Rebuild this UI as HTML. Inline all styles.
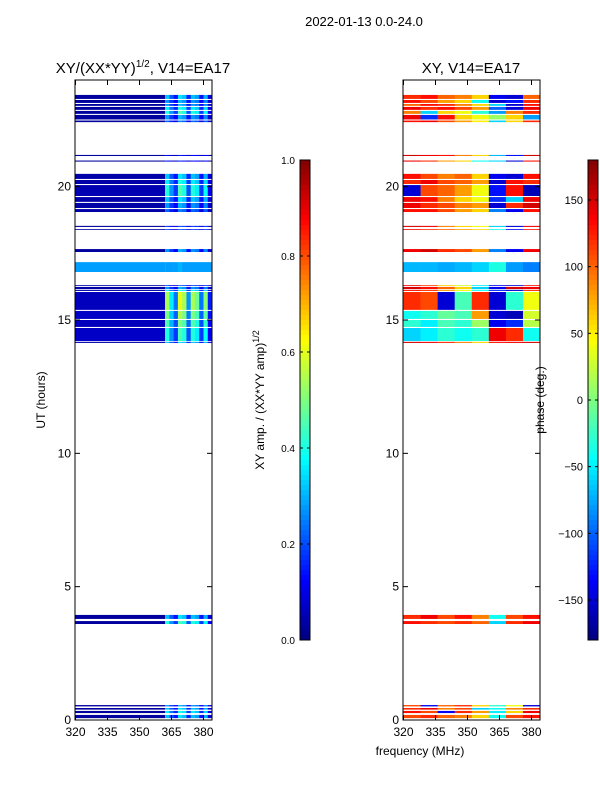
<!DOCTYPE html>
<html><head><meta charset="utf-8"><style>
body{margin:0;background:#fff}
svg{display:block;font-family:"Liberation Sans","DejaVu Sans",sans-serif}
</style></head><body>
<svg id="c" width="600" height="800">
<text x="364" y="26" font-size="13" text-anchor="middle">2022-01-13 0.0-24.0</text>
<text x="143" y="73" font-size="15" text-anchor="middle">XY/(XX*YY)<tspan font-size="10" dy="-6">1/2</tspan><tspan dy="6">, V14=EA17</tspan></text>
<text x="471" y="73" font-size="15" text-anchor="middle">XY, V14=EA17</text>
<text x="420" y="755" font-size="12" text-anchor="middle">frequency (MHz)</text>
<text transform="translate(45,400) rotate(-90)" font-size="12" text-anchor="middle">UT (hours)</text>
<text transform="translate(264,400) rotate(-90)" font-size="12" text-anchor="middle">XY amp. / (XX*YY amp)<tspan font-size="9" dy="-5">1/2</tspan></text>
<text transform="translate(544,400) rotate(-90)" font-size="12" text-anchor="middle">phase (deg.)</text>
<g id="L"></g>
<g id="R"></g>
<g id="CB"></g>
</svg>
<script>
const bandStart=[23.44,23.25,23.10,22.99,22.84,22.69,22.48,21.19,20.98,20.48,20.25,20.06,19.61,19.39,19.16,18.53,18.41,17.66,17.17,16.31,16.24,16.13,16.05,15.34,15.00,14.70,14.18,3.94,3.71,0.56,0.45,0.34,0.19];
const bandEnd=[23.29,23.14,23.03,22.88,22.73,22.52,22.42,21.15,20.94,20.29,20.10,19.65,19.43,19.20,19.05,18.49,18.38,17.55,16.80,16.28,16.16,16.09,15.38,15.04,14.74,14.21,14.14,3.79,3.60,0.51,0.39,0.26,0.07];
const ampBase=[0.03,0.03,0.03,0.03,0.03,0.03,0.03,0.03,0.03,0.04,0.04,0.05,0.04,0.04,0.04,0.03,0.03,0.03,0.28,0.04,0.04,0.04,0.06,0.07,0.06,0.07,0.04,0.03,0.03,0.03,0.03,0.03,0.03];
const ampPeak=[0.35,0.3,0.3,0.4,0.45,0.3,0.25,0.15,0.15,0.35,0.4,0.45,0.35,0.3,0.25,0.2,0.2,0.3,0.3,0.2,0.3,0.4,0.6,0.55,0.5,0.45,0.35,0.35,0.45,0.3,0.35,0.4,0.35];
const colFreq=[362,364,366,368,370,372,374,376,378,380,382];
const colPattern=[0.9,0.6,0.4,1.0,0.9,0.45,0.9,0.8,0.4,0.85,0.25];
const phaseSegFreq=[320,328,336,344,352,360,368,376];
const bandPhase=[
[120,130,100,90,60,-140,-150,100],[130,110,80,60,-40,-150,-130,120],[100,130,120,90,60,-60,-150,130],[140,120,130,110,80,-100,-150,140],[90,-60,60,40,-30,-80,90,120],[140,-120,130,60,40,10,60,-80],[130,140,110,80,50,-60,60,120],
[150,140,130,90,60,-70,-130,150],[140,120,80,60,-40,-60,-150,130],
[130,110,90,100,60,-140,-150,130],[120,140,110,100,80,-150,130,120],[-150,110,100,80,40,-130,130,-160],[140,130,90,60,40,-120,-60,140],[140,120,110,90,80,-150,120,150],[130,130,110,80,60,-90,-140,130],
[150,140,90,60,40,-60,-150,140],[140,120,100,80,60,-40,-140,130],[140,150,120,110,80,-90,-140,140],
[-70,-70,-75,-70,-60,-35,-80,-90],
[140,110,60,30,-50,-140,-150,130],[150,130,100,60,-60,-140,150,140],[130,120,80,40,-40,-120,-150,120],
[120,110,-150,-20,120,-150,-30,40],[-40,-30,-10,-20,80,-150,-160,30],[-30,-50,-20,-30,10,-140,-120,20],[-60,-50,-30,-40,-30,140,120,-40],[150,140,120,90,60,130,140,150],
[120,140,110,130,90,-40,110,130],[130,120,110,120,100,-60,120,140],
[110,-140,100,120,60,-30,40,-150],[120,140,90,110,-60,-40,90,120],[130,110,-140,120,80,-50,60,140],[110,120,100,90,60,-40,110,130]];
const xT=[320,335,350,365,380], yT=[0,5,10,15,20], ampT=[0,0.2,0.4,0.6,0.8,1.0], phT=[-150,-100,-50,0,50,100,150];
function jet(v){v=Math.max(0,Math.min(1,v));const f=t=>Math.round(255*Math.max(0,Math.min(1,1.5-Math.abs(4*v-t))));return`rgb(${f(3)},${f(2)},${f(1)})`;}
const NS='http://www.w3.org/2000/svg';
function el(p,t,a){const e=document.createElementNS(NS,t);for(const k in a)e.setAttribute(k,a[k]);p.appendChild(e);return e;}
const y=h=>720-h*(640/24);
function mk(x0){return f=>x0+0.5+(f-320)*(32/15);}
function panel(g,x0,isPhase){
  const x=mk(x0);
  for(let i=0;i<bandStart.length;i++){
    const y0=y(bandStart[i]),y1=y(bandEnd[i]);
    if(!isPhase){
      let r=el(g,'rect',{x:x(320),y:y0,width:x(362)-x(320),height:y1-y0,fill:jet(ampBase[i])});
      
      
      for(let c=0;c<colFreq.length;c++){
        const v=Math.max(ampBase[i],ampPeak[i]*colPattern[c]);
        let q=el(g,'rect',{x:x(colFreq[c]),y:y0,width:x(colFreq[c]+2)-x(colFreq[c])+0.3,height:y1-y0,fill:jet(v)});
        
        
      }
    }else{
      for(let s=0;s<phaseSegFreq.length;s++){
        const f0=phaseSegFreq[s],f1=s<phaseSegFreq.length-1?phaseSegFreq[s+1]:384;
        let q=el(g,'rect',{x:x(f0),y:y0,width:x(f1)-x(f0)+0.3,height:y1-y0,fill:jet((bandPhase[i][s]+180)/360)});
        
        
      }
    }
  }
  el(g,'rect',{x:x0,y:80,width:137,height:640,fill:'none',stroke:'#000','stroke-width':1});
  xT.forEach(t=>{const xx=x(t);el(g,'line',{x1:xx,x2:xx,y1:720,y2:715,stroke:'#000'});el(g,'line',{x1:xx,x2:xx,y1:80,y2:85,stroke:'#000'});
    const tx=el(g,'text',{x:xx,y:736,'font-size':12,'text-anchor':'middle'});tx.textContent=t;
    
    });
  yT.forEach(t=>{const yy=y(t);el(g,'line',{x1:x0,x2:x0+5,y1:yy,y2:yy,stroke:'#000'});el(g,'line',{x1:x0+137,x2:x0+132,y1:yy,y2:yy,stroke:'#000'});
    const tx=el(g,'text',{x:x0-4,y:yy+4,'font-size':12,'text-anchor':'end'});tx.textContent=t;
    
    });
}
panel(document.getElementById('L'),75,false);
panel(document.getElementById('R'),403,true);
const cb=document.getElementById('CB');
function colorbar(x0,ticks,lo,hi,fmt){
  for(let k=0;k<96;k++){el(cb,'rect',{x:x0,y:160+k*5,width:10,height:5.3,fill:jet(1-(k+0.5)/96)});}
  el(cb,'rect',{x:x0,y:160,width:10,height:480,fill:'none',stroke:'#000'});
  ticks.forEach(t=>{const yy=640-(t-lo)/(hi-lo)*480;el(cb,'line',{x1:x0,x2:x0+3,y1:yy,y2:yy,stroke:'#000'});el(cb,'line',{x1:x0+10,x2:x0+7,y1:yy,y2:yy,stroke:'#000'});
    const tx=el(cb,'text',{x:x0-5,y:yy+4,'font-size':fmt?10:11,'text-anchor':'end'});tx.textContent=fmt?t.toFixed(1):(t<0?'\u2212'+(-t):t);
    
    });
}
colorbar(300,ampT,0,1,true);
colorbar(588,phT,-180,180,false);
</script>
</body></html>
